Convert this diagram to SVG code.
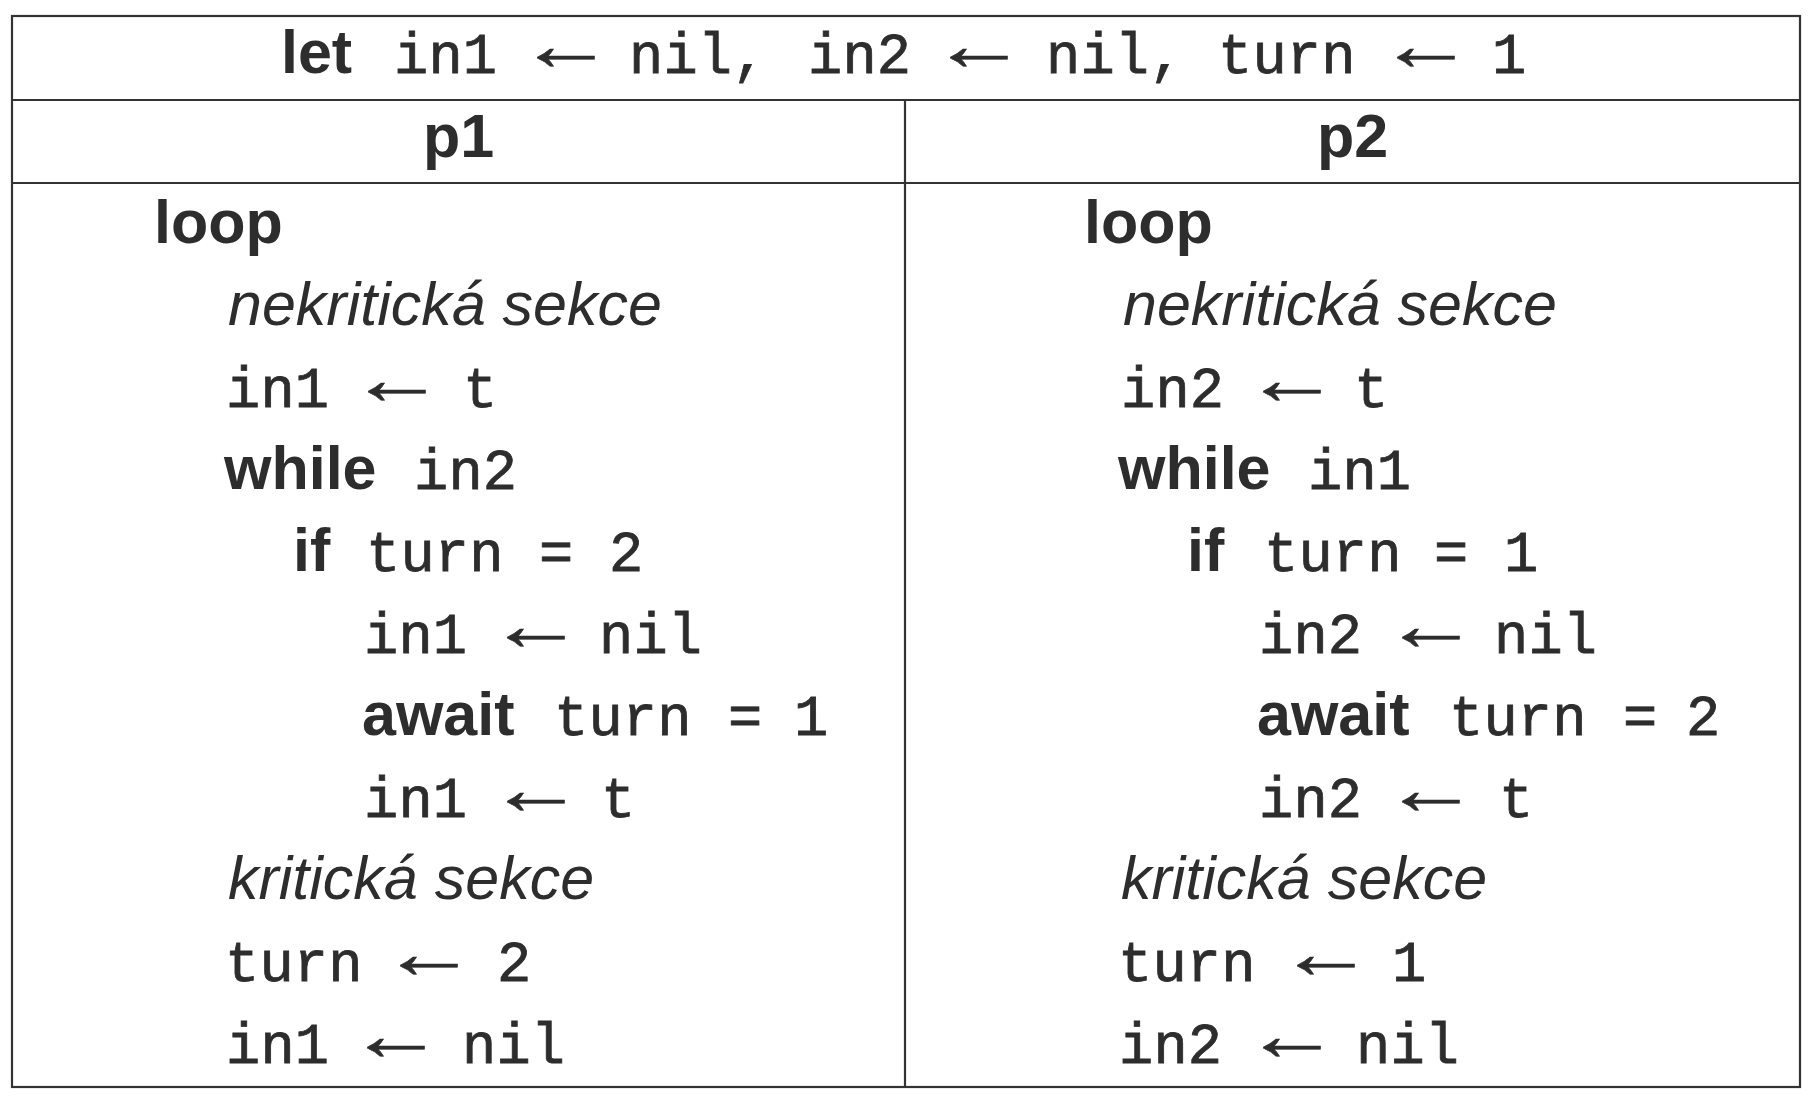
<svg xmlns="http://www.w3.org/2000/svg" width="1818" height="1106" viewBox="0 0 1818 1106">
<style>
text{fill:#2d2d2d}
.kw{font-family:"Liberation Sans",Arial,sans-serif;font-weight:bold;font-size:61px}
.it{font-family:"Liberation Sans",Arial,sans-serif;font-style:italic;font-size:61px}
.tt{font-family:"Liberation Mono","DejaVu Sans Mono",monospace;font-size:57px;letter-spacing:0.2px;stroke:#2d2d2d;stroke-width:0.8px}
.ar{font-family:"Liberation Serif","DejaVu Serif",serif;font-size:74px;stroke:#2d2d2d;stroke-width:0.6px}
.hd{font-family:"Liberation Sans",Arial,sans-serif;font-weight:bold;font-size:61px;text-anchor:middle}
.ln{stroke:#333;stroke-width:2.2;fill:none}
</style>
<rect width="1818" height="1106" fill="#fff"/>
<g id="grid">
<rect class="ln" x="12" y="16" width="1788" height="1071"/>
<line class="ln" x1="12" y1="100" x2="1800" y2="100"/>
<line class="ln" x1="12" y1="183" x2="1800" y2="183"/>
<line class="ln" x1="905" y1="100" x2="905" y2="1087"/>
</g>
<g id="header">
<text class="kw" x="281" y="73">let</text>
<text class="tt" x="394" y="73">in1</text>
<text class="ar" x="518" y="70" textLength="96" lengthAdjust="spacingAndGlyphs">←</text>
<text class="tt" x="629" y="73">nil,</text>
<text class="tt" x="808" y="73">in2</text>
<text class="ar" x="931" y="70" textLength="96" lengthAdjust="spacingAndGlyphs">←</text>
<text class="tt" x="1046" y="73">nil,</text>
<text class="tt" x="1218" y="73">turn</text>
<text class="ar" x="1378" y="70" textLength="96" lengthAdjust="spacingAndGlyphs">←</text>
<text class="tt" x="1492" y="73">1</text>
</g>
<g id="p1-title"><text class="hd" x="458.5" y="157">p1</text></g>
<g id="p2-title"><text class="hd" x="1352.5" y="157">p2</text></g>
<g id="p1-code">
<text class="kw" x="154" y="243">loop</text>
<text class="it" x="228" y="325">nekritická sekce</text>
<text class="tt" x="226" y="407">in1</text><text class="ar" x="349" y="404" textLength="96" lengthAdjust="spacingAndGlyphs">←</text><text class="tt" x="463" y="407">t</text>
<text class="kw" x="224" y="489">while</text><text class="tt" x="414" y="489">in2</text>
<text class="kw" x="293" y="571">if</text><text class="tt" x="366" y="571">turn</text><text class="tt" x="539" y="571">=</text><text class="tt" x="609" y="571">2</text>
<text class="tt" x="364" y="653">in1</text><text class="ar" x="488" y="650" textLength="96" lengthAdjust="spacingAndGlyphs">←</text><text class="tt" x="599" y="653">nil</text>
<text class="kw" x="362" y="735">await</text><text class="tt" x="554" y="735">turn</text><text class="tt" x="728" y="735">=</text><text class="tt" x="794" y="735">1</text>
<text class="tt" x="364" y="817">in1</text><text class="ar" x="488" y="814" textLength="96" lengthAdjust="spacingAndGlyphs">←</text><text class="tt" x="601" y="817">t</text>
<text class="it" x="228" y="899">kritická sekce</text>
<text class="tt" x="225" y="981">turn</text><text class="ar" x="381" y="978" textLength="96" lengthAdjust="spacingAndGlyphs">←</text><text class="tt" x="497" y="981">2</text>
<text class="tt" x="226" y="1063">in1</text><text class="ar" x="348" y="1060" textLength="96" lengthAdjust="spacingAndGlyphs">←</text><text class="tt" x="462" y="1063">nil</text>
</g>
<g id="p2-code">
<text class="kw" x="1084" y="243">loop</text>
<text class="it" x="1123" y="325">nekritická sekce</text>
<text class="tt" x="1121" y="407">in2</text><text class="ar" x="1244" y="404" textLength="96" lengthAdjust="spacingAndGlyphs">←</text><text class="tt" x="1354" y="407">t</text>
<text class="kw" x="1118" y="489">while</text><text class="tt" x="1308" y="489">in1</text>
<text class="kw" x="1187" y="571">if</text><text class="tt" x="1264" y="571">turn</text><text class="tt" x="1434" y="571">=</text><text class="tt" x="1504" y="571">1</text>
<text class="tt" x="1259" y="653">in2</text><text class="ar" x="1383" y="650" textLength="96" lengthAdjust="spacingAndGlyphs">←</text><text class="tt" x="1494" y="653">nil</text>
<text class="kw" x="1257" y="735">await</text><text class="tt" x="1449" y="735">turn</text><text class="tt" x="1623" y="735">=</text><text class="tt" x="1686" y="735">2</text>
<text class="tt" x="1259" y="817">in2</text><text class="ar" x="1383" y="814" textLength="96" lengthAdjust="spacingAndGlyphs">←</text><text class="tt" x="1499" y="817">t</text>
<text class="it" x="1121" y="899">kritická sekce</text>
<text class="tt" x="1118" y="981">turn</text><text class="ar" x="1278" y="978" textLength="96" lengthAdjust="spacingAndGlyphs">←</text><text class="tt" x="1392" y="981">1</text>
<text class="tt" x="1119" y="1063">in2</text><text class="ar" x="1244" y="1060" textLength="96" lengthAdjust="spacingAndGlyphs">←</text><text class="tt" x="1356" y="1063">nil</text>
</g>
</svg>
